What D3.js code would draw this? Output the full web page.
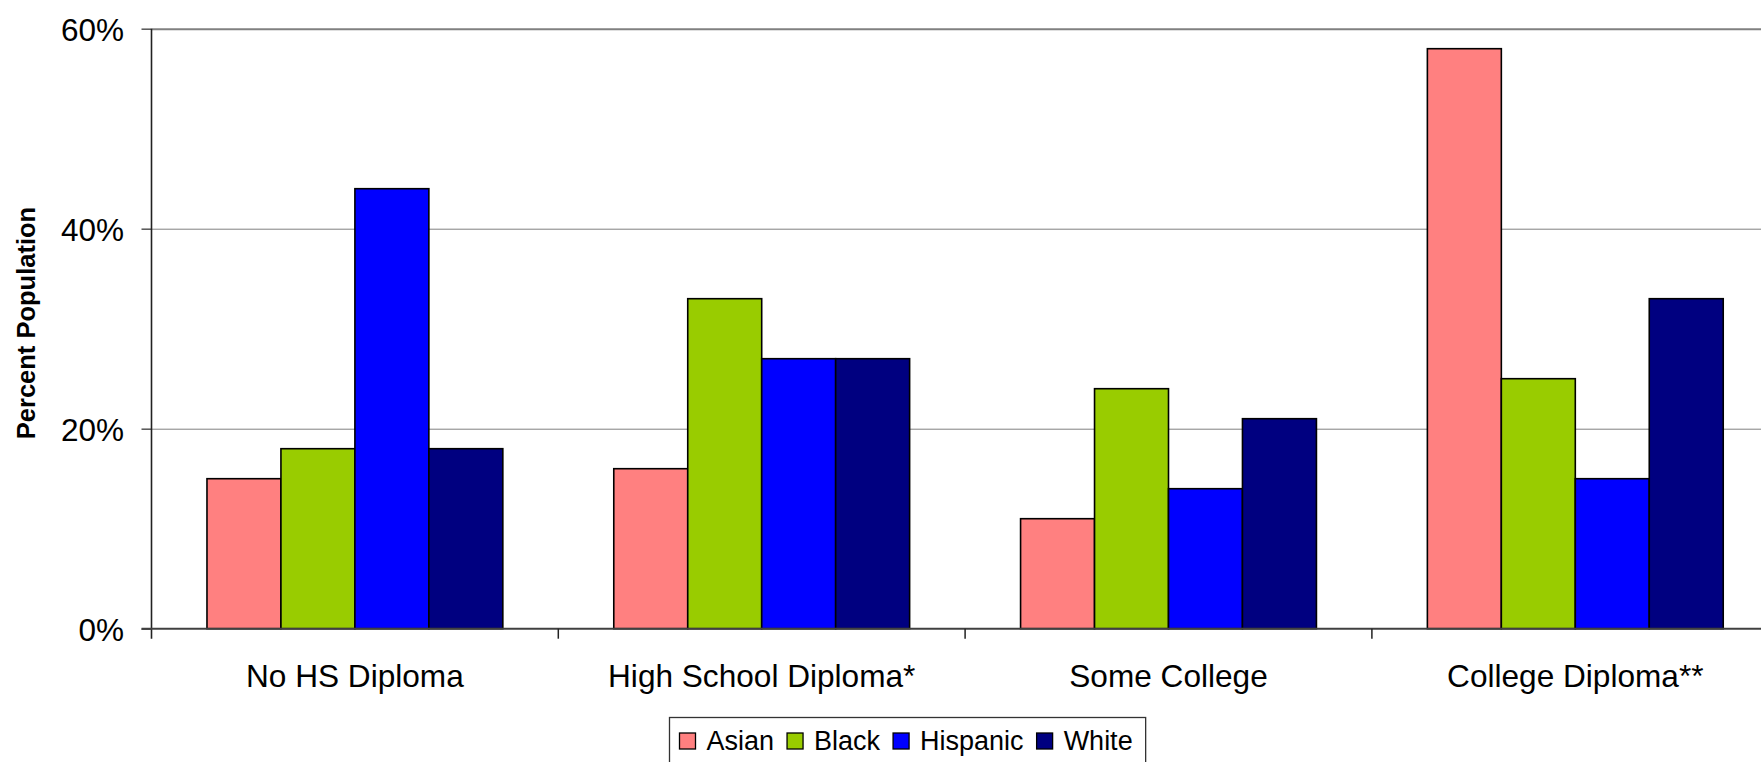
<!DOCTYPE html>
<html>
<head>
<meta charset="utf-8">
<script src="https://cdn.jsdelivr.net/npm/d3@7"></script>
<style>
  html, body { margin: 0; padding: 0; background: #fff; overflow: hidden; }
  svg { display: block; font-family: "Liberation Sans", Arial, sans-serif; }
</style>
</head>
<body>
<svg id="chart" width="1761" height="762"></svg>
<script>
// Education level by group (percent of population)
const categories = ["No HS Diploma", "High School Diploma*", "Some College", "College Diploma**"];
const seriesNames = ["Asian", "Black", "Hispanic", "White"];
const asian    = [15, 16, 11, 58];
const black    = [18, 33, 24, 25];
const hispanic = [44, 27, 14, 15];
const white    = [18, 27, 21, 33];
const seriesColors = ["#FF8080", "#99CC00", "#0000FF", "#000080"];
const yTicks = [0, 20, 40, 60];
const yTitle = "Percent Population";

const seriesValues = [asian, black, hispanic, white];
const rows = categories.map((c, i) => ({
  category: c,
  values: seriesNames.map((s, j) => ({ series: s, value: seriesValues[j][i] }))
}));

const svg = d3.select("#chart");
const plotLeft = 151.5, plotTop = 28.7, plotBottom = 628.7;
const bandW = 406.8;
const plotRight = plotLeft + bandW * categories.length;

const x0 = d3.scaleBand().domain(categories).range([plotLeft, plotRight]).padding(0);
const x1 = d3.scaleBand().domain(seriesNames).range([0, x0.bandwidth()])
  .paddingInner(0).paddingOuter(0.75);
const y = d3.scaleLinear().domain([0, 60]).range([plotBottom, plotTop]);
const color = d3.scaleOrdinal().domain(seriesNames).range(seriesColors);

// horizontal gridlines
const grid = svg.append("g").attr("transform", `translate(${plotLeft},0)`)
  .call(d3.axisLeft(y).tickValues(yTicks.filter(t => t > 0)).tickSize(-(plotRight - plotLeft)).tickFormat(""));
grid.select(".domain").remove();
grid.selectAll(".tick line")
  .attr("stroke", "#808080")
  .attr("stroke-width", d => d === 60 ? 2 : 1);

// bars
const groups = svg.append("g").selectAll("g").data(rows).join("g")
  .attr("transform", d => `translate(${x0(d.category)},0)`);
groups.selectAll("rect").data(d => d.values).join("rect")
  .attr("x", d => x1(d.series))
  .attr("width", x1.bandwidth())
  .attr("y", d => y(d.value))
  .attr("height", d => y(0) - y(d.value))
  .attr("fill", d => color(d.series))
  .attr("stroke", "#000")
  .attr("stroke-width", 1.6);

// y axis
const yAxis = svg.append("g").attr("transform", `translate(${plotLeft},0)`)
  .call(d3.axisLeft(y).tickValues(yTicks).tickSize(10).tickPadding(17.5).tickFormat(d => d + "%"));
yAxis.select(".domain").remove();
yAxis.selectAll(".tick line").attr("stroke", "#555").attr("stroke-width", 1.5);
yAxis.selectAll(".tick text")
  .attr("font-size", 31.5).attr("font-family", "Liberation Sans, Arial, sans-serif")
  .attr("fill", "#000").attr("dy", "0.36em");
svg.append("line")
  .attr("x1", plotLeft).attr("x2", plotLeft).attr("y1", plotTop).attr("y2", plotBottom + 10)
  .attr("stroke", "#222").attr("stroke-width", 1.6);

// x axis
const xAxis = svg.append("g").attr("transform", `translate(0,${plotBottom})`)
  .call(d3.axisBottom(x0).tickSize(0));
xAxis.select(".domain").remove();
xAxis.selectAll(".tick text")
  .attr("y", 58).attr("dy", 0)
  .attr("font-size", 31.6).attr("font-family", "Liberation Sans, Arial, sans-serif")
  .attr("fill", "#000");
svg.append("line")
  .attr("x1", plotLeft - 10).attr("x2", plotRight).attr("y1", plotBottom).attr("y2", plotBottom)
  .attr("stroke", "#404040").attr("stroke-width", 2);
const boundaries = categories.map(c => x0(c)).concat([plotRight]);
svg.append("g").selectAll("line").data(boundaries.slice(1)).join("line")
  .attr("x1", d => d).attr("x2", d => d)
  .attr("y1", plotBottom).attr("y2", plotBottom + 10)
  .attr("stroke", "#222").attr("stroke-width", 1.5);

// y axis title
svg.append("text")
  .attr("transform", `translate(34.5,323) rotate(-90)`)
  .attr("text-anchor", "middle")
  .attr("font-size", 25.5).attr("font-weight", "bold")
  .attr("fill", "#000")
  .text(yTitle);

// legend
const legend = svg.append("g");
const legX = 669.5, legTop = 717.5;
const legRect = legend.append("rect")
  .attr("x", legX).attr("y", legTop).attr("height", 60)
  .attr("fill", "#fff").attr("stroke", "#333").attr("stroke-width", 1.3);
let cx = legX + 10;
seriesNames.forEach(s => {
  legend.append("rect")
    .attr("x", cx).attr("y", 733).attr("width", 16).attr("height", 16)
    .attr("fill", color(s)).attr("stroke", "#000").attr("stroke-width", 1.3);
  const t = legend.append("text")
    .attr("x", cx + 27).attr("y", 750)
    .attr("font-size", 27).attr("fill", "#000")
    .text(s);
  cx += 27 + t.node().getComputedTextLength() + 13;
});
legRect.attr("width", cx - legX);
</script>
</body>
</html>
